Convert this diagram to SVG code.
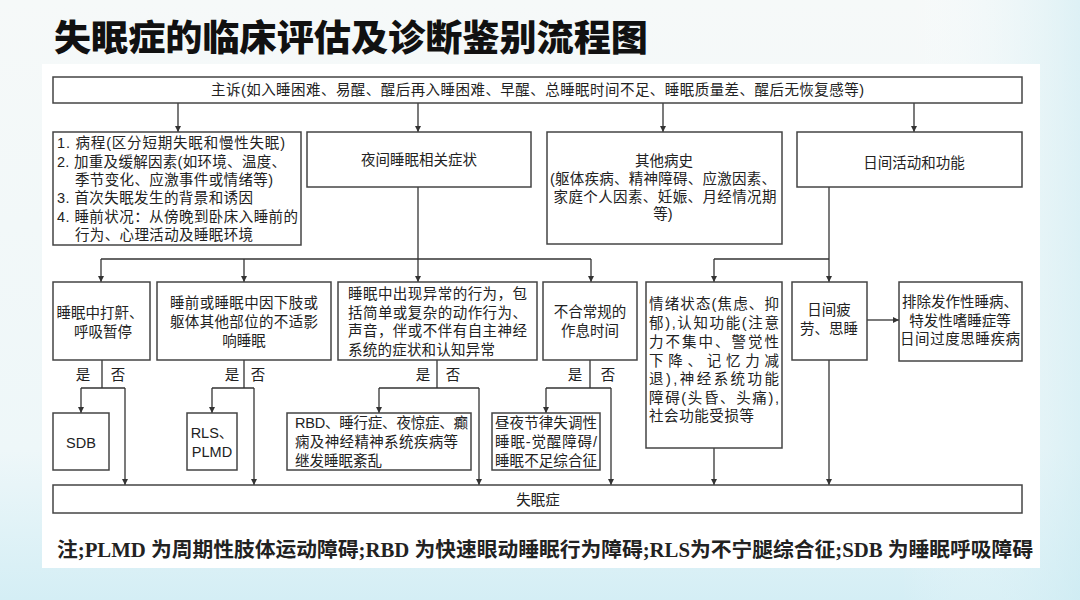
<svg xmlns="http://www.w3.org/2000/svg" width="1080" height="600" viewBox="0 0 1080 600">
<defs>
<linearGradient id="bg" x1="0" y1="0" x2="0" y2="1">
<stop offset="0" stop-color="#f6f9f9"/>
<stop offset="0.75" stop-color="#eef7f9"/>
<stop offset="1" stop-color="#d4eef5"/>
</linearGradient>
<linearGradient id="bgr" x1="0" y1="0" x2="1" y2="0">
<stop offset="0" stop-color="#ffffff" stop-opacity="0"/>
<stop offset="1" stop-color="#cdebf2" stop-opacity="0.6"/>
</linearGradient>
<marker id="ah" viewBox="0 0 10 10" refX="10" refY="5" markerWidth="6" markerHeight="6" orient="auto" markerUnits="userSpaceOnUse">
<path d="M0,0 L10,5 L0,10 z" fill="#333"/>
</marker>
<style>
.box{fill:#fff;stroke:#444;stroke-width:1.5}
.t{font-family:"Liberation Sans","Noto Sans CJK SC",sans-serif;font-size:14.5px;fill:#222}
.c{text-anchor:middle}
.ln{fill:none;stroke:#333;stroke-width:1.3}
.ar{fill:none;stroke:#333;stroke-width:1.3;marker-end:url(#ah)}
</style>
</defs>
<rect x="0" y="0" width="1080" height="600" fill="url(#bg)"/>
<rect x="900" y="0" width="180" height="600" fill="url(#bgr)"/>
<rect x="42" y="64" width="998" height="504" fill="#ffffff"/>
<text x="54" y="51" font-family="Noto Sans CJK SC,sans-serif" font-size="36" font-weight="900" fill="#111" textLength="594" lengthAdjust="spacingAndGlyphs">失眠症的临床评估及诊断鉴别流程图</text>

<g id="connectors">
<path class="ar" d="M178,103 V132"/>
<path class="ar" d="M418,103 V132"/>
<path class="ar" d="M663,103 V132"/>
<path class="ar" d="M914,103 V132"/>
<path class="ar" d="M418,187 V282"/>
<path class="ln" d="M101,259 H591"/>
<path class="ar" d="M101,259 V282"/>
<path class="ar" d="M244,259 V282"/>
<path class="ar" d="M591,259 V282"/>
<path class="ar" d="M829,187 V282"/>
<path class="ln" d="M714,259 H829"/>
<path class="ar" d="M714,259 V282"/>
<path class="ar" d="M867,320 H899"/>
<path class="ln" d="M102,360 V388 M81,388 H125"/>
<path class="ar" d="M81,388 V413"/>
<path class="ar" d="M125,388 V485"/>
<path class="ln" d="M244,360 V388 M212,388 H254"/>
<path class="ar" d="M212,388 V413"/>
<path class="ar" d="M254,388 V485"/>
<path class="ln" d="M437,360 V388 M379,388 H479"/>
<path class="ar" d="M379,388 V413"/>
<path class="ar" d="M479,388 V485"/>
<path class="ln" d="M590,360 V388 M546,388 H611"/>
<path class="ar" d="M546,388 V413"/>
<path class="ar" d="M611,388 V485"/>
<path class="ar" d="M714,448 V485"/>
<path class="ar" d="M829,360 V485"/>
<g class="t">
<text x="83" y="380" class="c">是</text><text x="118" y="380" class="c">否</text>
<text x="232" y="380" class="c">是</text><text x="258" y="380" class="c">否</text>
<text x="423" y="380" class="c">是</text><text x="453" y="380" class="c">否</text>
<text x="575" y="380" class="c">是</text><text x="608" y="380" class="c">否</text>
</g>
</g>

<g id="n-main">
<rect class="box" x="53" y="77" width="969" height="26"/>
<text class="t" x="211" y="95" textLength="653" lengthAdjust="spacing">主诉(如入睡困难、易醒、醒后再入睡困难、早醒、总睡眠时间不足、睡眠质量差、醒后无恢复感等)</text>
</g>

<g id="n-history">
<rect class="box" x="53" y="132" width="248" height="113"/>
<g class="t">
<text x="57" y="148" textLength="228" lengthAdjust="spacing">1. 病程(区分短期失眠和慢性失眠)</text>
<text x="57" y="166.5" textLength="229" lengthAdjust="spacing">2. 加重及缓解因素(如环境、温度、</text>
<text x="75" y="185" textLength="198" lengthAdjust="spacing">季节变化、应激事件或情绪等)</text>
<text x="57" y="203" textLength="196" lengthAdjust="spacing">3. 首次失眠发生的背景和诱因</text>
<text x="57" y="221.5" textLength="241" lengthAdjust="spacing">4. 睡前状况：从傍晚到卧床入睡前的</text>
<text x="75" y="240" textLength="178" lengthAdjust="spacing">行为、心理活动及睡眠环境</text>
</g>
</g>

<g id="n-night">
<rect class="box" x="307" y="132" width="224" height="55"/>
<text class="t c" x="419" y="165">夜间睡眠相关症状</text>
</g>

<g id="n-other">
<rect class="box" x="547" y="132" width="235" height="112"/>
<g class="t c">
<text x="664" y="166">其他病史</text>
<text x="663" y="184" textLength="226" lengthAdjust="spacing">(躯体疾病、精神障碍、应激因素、</text>
<text x="665" y="202" textLength="223" lengthAdjust="spacing">家庭个人因素、妊娠、月经情况期</text>
<text x="663" y="219">等)</text>
</g>
</g>

<g id="n-day">
<rect class="box" x="797" y="132" width="225" height="55"/>
<text class="t c" x="914" y="168">日间活动和功能</text>
</g>

<g id="n-snore">
<rect class="box" x="53" y="282" width="97" height="78"/>
<g class="t c">
<text x="100" y="318">睡眠中打鼾、</text>
<text x="103" y="337">呼吸暂停</text>
</g>
</g>

<g id="n-limb">
<rect class="box" x="157" y="282" width="174" height="78"/>
<g class="t c">
<text x="244" y="308" textLength="148" lengthAdjust="spacing">睡前或睡眠中因下肢或</text>
<text x="244" y="327" textLength="148" lengthAdjust="spacing">躯体其他部位的不适影</text>
<text x="244" y="346">响睡眠</text>
</g>
</g>

<g id="n-behavior">
<rect class="box" x="338" y="282" width="199" height="78"/>
<g class="t">
<text x="348" y="299" textLength="179" lengthAdjust="spacing">睡眠中出现异常的行为，包</text>
<text x="348" y="318" textLength="179" lengthAdjust="spacing">括简单或复杂的动作行为、</text>
<text x="348" y="336" textLength="179" lengthAdjust="spacing">声音，伴或不伴有自主神经</text>
<text x="348" y="355" textLength="147" lengthAdjust="spacing">系统的症状和认知异常</text>
</g>
</g>

<g id="n-schedule">
<rect class="box" x="543" y="282" width="94" height="78"/>
<g class="t c">
<text x="590" y="317">不合常规的</text>
<text x="590" y="336">作息时间</text>
</g>
</g>

<g id="n-mood">
<rect class="box" x="646" y="282" width="136" height="166"/>
<g class="t">
<text x="649" y="309" textLength="130" lengthAdjust="spacing">情绪状态(焦虑、抑</text>
<text x="649" y="328" textLength="130" lengthAdjust="spacing">郁),认知功能(注意</text>
<text x="649" y="347" textLength="130" lengthAdjust="spacing">力不集中、警觉性</text>
<text x="649" y="366" textLength="130" lengthAdjust="spacing">下降、记忆力减</text>
<text x="649" y="384" textLength="130" lengthAdjust="spacing">退),神经系统功能</text>
<text x="649" y="403" textLength="130" lengthAdjust="spacing">障碍(头昏、头痛),</text>
<text x="649" y="421" textLength="105" lengthAdjust="spacing">社会功能受损等</text>
</g>
</g>

<g id="n-fatigue">
<rect class="box" x="792" y="282" width="75" height="78"/>
<g class="t c">
<text x="829" y="315">日间疲</text>
<text x="829" y="334">劳、思睡</text>
</g>
</g>

<g id="n-exclude">
<rect class="box" x="899" y="282" width="123" height="79"/>
<g class="t c">
<text x="960" y="307">排除发作性睡病、</text>
<text x="960" y="326">特发性嗜睡症等</text>
<text x="960" y="344" textLength="120" lengthAdjust="spacing">日间过度思睡疾病</text>
</g>
</g>

<g id="n-sdb">
<rect class="box" x="53" y="413" width="56" height="57"/>
<text class="t c" x="81" y="448">SDB</text>
</g>

<g id="n-rls">
<rect class="box" x="187" y="413" width="50" height="57"/>
<g class="t c">
<text x="212" y="438">RLS、</text>
<text x="212" y="457">PLMD</text>
</g>
</g>

<g id="n-rbd">
<rect class="box" x="287" y="413" width="184" height="57"/>
<g class="t">
<text x="295" y="428" textLength="173" lengthAdjust="spacing">RBD、睡行症、夜惊症、癫</text>
<text x="295" y="447" textLength="163" lengthAdjust="spacing">痫及神经精神系统疾病等</text>
<text x="295" y="466">继发睡眠紊乱</text>
</g>
</g>

<g id="n-circadian">
<rect class="box" x="492" y="413" width="108" height="57"/>
<g class="t">
<text x="495" y="428" textLength="102" lengthAdjust="spacing">昼夜节律失调性</text>
<text x="495" y="447" textLength="102" lengthAdjust="spacing">睡眠-觉醒障碍/</text>
<text x="495" y="466" textLength="102" lengthAdjust="spacing">睡眠不足综合征</text>
</g>
</g>

<g id="n-insomnia">
<rect class="box" x="53" y="485" width="969" height="28"/>
<text class="t c" x="538" y="505">失眠症</text>
</g>

<text x="57" y="557" font-family="Liberation Serif,Noto Sans CJK SC,serif" font-size="20" font-weight="bold" fill="#222" textLength="976" lengthAdjust="spacingAndGlyphs">注;PLMD 为周期性肢体运动障碍;RBD 为快速眼动睡眠行为障碍;RLS为不宁腿综合征;SDB 为睡眠呼吸障碍</text>
</svg>
